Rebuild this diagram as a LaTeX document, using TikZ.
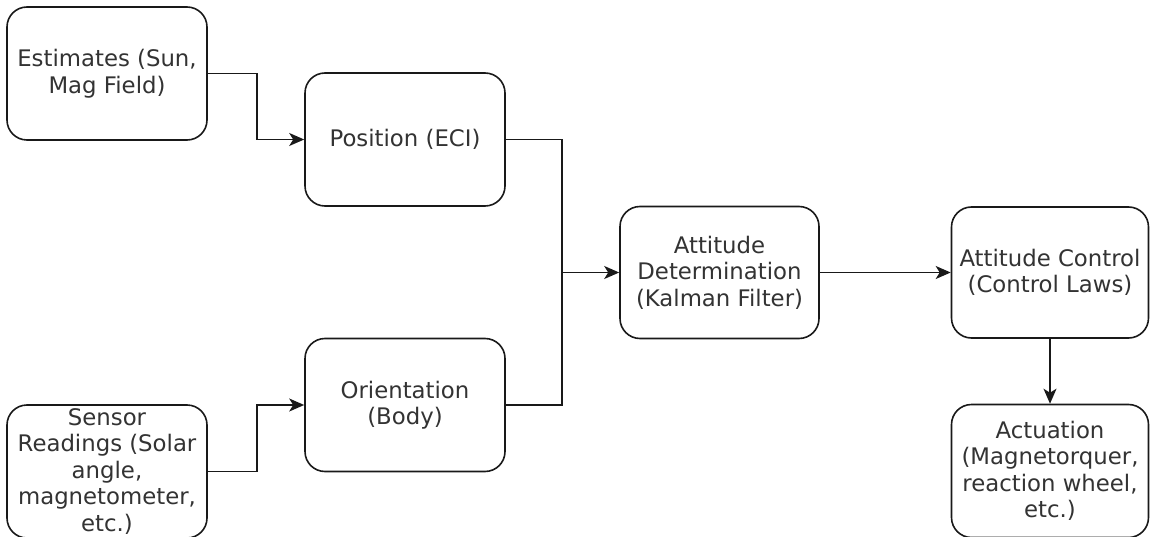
\documentclass[tikz,border=0pt]{standalone}
\usepackage{fontspec}
\setmainfont{DejaVu Sans}
\usetikzlibrary{arrows.meta}
\begin{document}
\begin{tikzpicture}[x=1pt,y=-1pt,
  box/.style={draw=black!90, line width=1.6pt, rounded corners=20pt, fill=white,
    minimum width=200pt, minimum height=133pt, inner sep=0pt, align=center,
    text=black!80, font=\fontsize{22.8}{26.5}\selectfont},
  link/.style={draw=black!90, line width=1.6pt},
  arr/.style={link, -{Stealth[length=15pt,width=13pt,inset=4pt]}}]
\useasboundingbox (0,0) rectangle (1150,537);
\node[box] (est) at (107,73.5) {Estimates (Sun,\\Mag Field)};
\node[box] (pos) at (405,139.5) {Position (ECI)};
\node[box] (sen) at (107,471.5) {Sensor\\Readings (Solar\\angle,\\magnetometer,\\etc.)};
\node[box] (ori) at (405,405) {Orientation\\(Body)};
\node[box, minimum width=199pt, minimum height=132pt] (ad) at (719.5,272.5) {Attitude\\Determination\\(Kalman Filter)};
\node[box, minimum width=197pt, minimum height=131pt] (ac) at (1050,272.5) {Attitude Control\\(Control Laws)};
\node[box, minimum width=197pt, minimum height=133pt] (act) at (1050,471) {Actuation\\(Magnetorquer,\\reaction wheel,\\etc.)};
\coordinate (j) at (562,272.5);
\draw[arr] (est.east) -- ++(49,0) |- (pos.west);
\draw[arr] (sen.east) -- ++(49,0) |- (ori.west);
\draw[link] (pos.east) -| (j);
\draw[link] (ori.east) -| (j);
\draw[arr] (j) -- (ad.west);
\draw[arr] (ad.east) -- (ac.west);
\draw[arr] (ac.south) -- (act.north);
\end{tikzpicture}
\end{document}
